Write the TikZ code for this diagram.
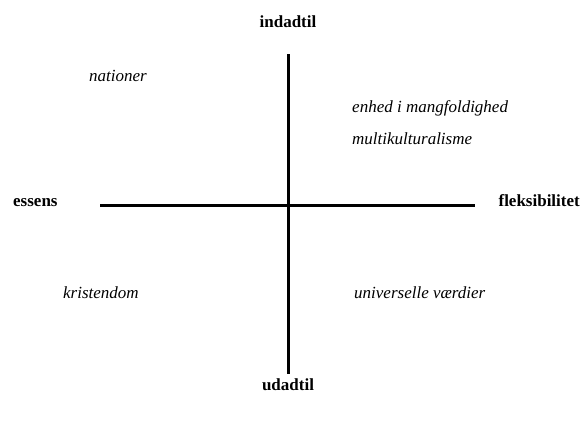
\documentclass[tikz,border=0pt]{standalone}
\usepackage{fontspec}
\setmainfont{Liberation Serif}
\begin{document}
\begin{tikzpicture}[x=1pt,y=-1pt,
  axis/.style={line width=3pt},
  pole/.style={inner sep=0pt,font=\fontsize{17}{20}\selectfont\bfseries},
  item/.style={inner sep=0pt,anchor=base west,font=\fontsize{17}{20}\selectfont\itshape}]
\useasboundingbox (0,0) rectangle (581,421);
\coordinate (top) at (288,54);
\coordinate (bottom) at (288,374);
\coordinate (left) at (100,205);
\coordinate (right) at (475,205);
\draw[axis] (top) -- (bottom);
\draw[axis] (left) -- (right);
\node[pole,anchor=base] (in) at (288,27) {indadtil};
\node[pole,anchor=base] (ud) at (288,390) {udadtil};
\node[pole,anchor=base west] (es) at (13,206) {essens};
\node[pole,anchor=base east] (fl) at (580,206) {fleksibilitet};
\node[item] (na) at (89,81) {nationer};
\node[item] (en) at (352,112) {enhed i mangfoldighed};
\node[item] (mu) at (352,144) {multikulturalisme};
\node[item] (kr) at (63,298) {kristendom};
\node[item] (un) at (354,298) {universelle værdier};
\end{tikzpicture}
\end{document}
